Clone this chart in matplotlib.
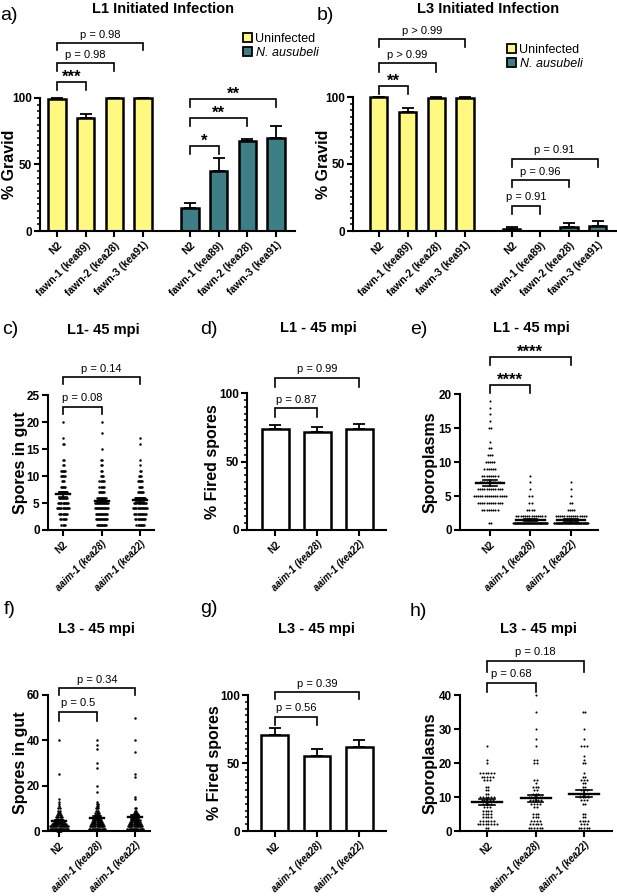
import numpy as np
import matplotlib
matplotlib.use('Agg')
from matplotlib import pyplot as plt
from matplotlib.patches import Patch

plt.rcParams['font.family'] = ['Liberation Sans', 'DejaVu Sans']

YELLOW = '#FFF981'
TEAL = '#3E7E86'

fawn_labels = ['N2', 'fawn-1 (kea89)', 'fawn-2 (kea28)', 'fawn-3 (kea91)']
aaim_labels = ['N2', 'aaim-1 (kea28)', 'aaim-1 (kea22)']

# a) L1 initiated infection, % gravid
l1_uninf = [99, 85, 100, 100]
l1_uninf_err = [1, 3, 0, 0]
l1_inf = [17, 45, 68, 70]
l1_inf_err = [4, 10, 1, 9]

# b) L3 initiated infection, % gravid
l3_uninf = [100, 89, 99.5, 99.5]
l3_uninf_err = [0.3, 3, 0.5, 0.3]
l3_inf = [1.5, 0, 3, 3.5]
l3_inf_err = [1.5, 0, 3, 4]

# d) / g) % fired spores
l1_fired = [74, 71.5, 73.5]
l1_fired_err = [3, 4, 4]
l3_fired = [70.5, 55, 62]
l3_fired_err = [5, 5.5, 5]

# c) spores in gut, L1 (value, number of animals)
c_n2_vals = [1, 2, 3, 4, 5, 6, 7, 8, 9, 10, 11, 12, 13, 16, 17, 20]
c_n2_cnts = [4, 6, 8, 12, 10, 9, 8, 5, 3, 5, 5, 2, 2, 2, 1, 1]
c_k28_vals = [1, 2, 3, 4, 5, 6, 7, 8, 9, 10, 11, 12, 13, 15, 18, 20]
c_k28_cnts = [10, 12, 12, 14, 14, 10, 6, 5, 5, 3, 2, 2, 2, 1, 1, 1]
c_k22_vals = [1, 2, 3, 4, 5, 6, 7, 8, 9, 10, 11, 12, 13, 16, 17]
c_k22_cnts = [8, 10, 12, 14, 12, 10, 6, 4, 5, 3, 2, 1, 1, 1, 1]
c_mean = [6.6, 5.3, 5.5]
c_sem = [0.45, 0.35, 0.4]

# e) sporoplasms, L1
e_n2_vals = [1, 3, 4, 5, 6, 7, 8, 9, 10, 11, 12, 13, 15, 16, 17, 18, 19]
e_n2_cnts = [2, 8, 12, 16, 12, 10, 8, 6, 5, 3, 2, 1, 2, 1, 1, 1, 1]
e_k28_vals = [1, 2, 3, 4, 5, 6, 7, 8]
e_k28_cnts = [70, 14, 4, 2, 2, 1, 1, 1]
e_k22_vals = [1, 2, 3, 4, 5, 6, 7]
e_k22_cnts = [65, 15, 4, 2, 1, 1, 1]
e_mean = [6.9, 1.45, 1.4]
e_sem = [0.4, 0.15, 0.15]

# f) spores in gut, L3
f_n2_vals = [0, 1, 2, 3, 4, 5, 6, 7, 8, 9, 10, 11, 12, 13, 14, 25, 40]
f_n2_cnts = [5, 20, 18, 14, 10, 8, 6, 4, 3, 2, 2, 1, 1, 1, 1, 1, 1]
f_k28_vals = [1, 2, 3, 4, 5, 6, 7, 8, 9, 10, 11, 12, 13, 17, 20, 28, 30, 36, 38, 40]
f_k28_cnts = [15, 14, 12, 10, 8, 6, 5, 4, 3, 3, 2, 2, 1, 1, 1, 1, 1, 1, 1, 1]
f_k22_vals = [1, 2, 3, 4, 5, 6, 7, 8, 9, 10, 14, 15, 24, 25, 35, 40, 50]
f_k22_cnts = [15, 14, 12, 10, 9, 7, 6, 4, 2, 2, 1, 1, 1, 1, 1, 1, 1]
f_mean = [4.2, 5.7, 6.0]
f_sem = [0.7, 0.8, 0.9]

# h) sporoplasms, L3
h_n2_vals = [1, 2, 3, 4, 5, 6, 7, 8, 9, 10, 11, 12, 13, 15, 16, 17, 20, 21, 25]
h_n2_cnts = [2, 8, 6, 4, 4, 4, 3, 4, 5, 6, 2, 2, 2, 3, 5, 6, 1, 1, 1]
h_k28_vals = [1, 2, 3, 4, 5, 7, 8, 9, 10, 11, 12, 13, 14, 15, 20, 21, 25, 27, 30, 35, 40]
h_k28_cnts = [6, 5, 4, 3, 3, 2, 4, 5, 6, 3, 2, 3, 1, 2, 2, 2, 1, 1, 1, 1, 1]
h_k22_vals = [1, 2, 3, 4, 5, 8, 9, 10, 11, 12, 13, 14, 15, 16, 17, 20, 21, 22, 25, 27, 30, 35]
h_k22_cnts = [5, 3, 4, 2, 2, 2, 3, 4, 4, 3, 2, 2, 3, 2, 1, 2, 1, 1, 3, 1, 1, 2]
h_mean = [8.5, 9.6, 11.0]
h_sem = [0.8, 1.0, 1.0]

W, H = 617, 896
fig = plt.figure(figsize=(W / 100, H / 100), dpi=100)


def px_axes(left, right, y0, ppu, ymax, xlim):
    # axes placed from pixel measurements of the reference
    ax = fig.add_axes([left / W, (H - y0) / H, (right - left) / W, ppu * ymax / H])
    ax.set_xlim(*xlim)
    ax.set_ylim(0, ymax)
    return ax


def ftext(x, y, s, **kw):
    fig.text(x / W, 1 - y / H, s, **kw)


def style(ax, top, major, minor, labels, xpos, italic, ylabel, lx, lsize=7.5):
    for s in ['top', 'right']:
        ax.spines[s].set_visible(False)
    for s in ['left', 'bottom']:
        ax.spines[s].set_linewidth(1.5)
    ax.spines['left'].set_bounds(0, top)
    ax.set_yticks(np.arange(0, top + 0.01, major))
    if minor:
        ax.set_yticks(np.arange(0, top + 0.01, minor), minor=True)
    ax.tick_params(axis='y', which='major', length=4.5, width=1.5, labelsize=8.5, pad=1.5)
    ax.tick_params(axis='y', which='minor', length=2.5, width=1.1)
    ax.tick_params(axis='x', length=4.5, width=1.5, pad=2)
    for lbl in ax.get_yticklabels():
        lbl.set_fontweight('bold')
    ax.set_xticks(xpos)
    ax.set_xticklabels(labels, rotation=45, ha='right', va='top',
                       rotation_mode='anchor', fontsize=lsize, fontweight='bold')
    if italic:
        for lbl in ax.get_xticklabels()[1:]:
            lbl.set_fontstyle('italic')
    ax.set_ylabel(ylabel, fontsize=11.5, fontweight='bold')
    ax.yaxis.set_label_coords(lx, top / 2 / ax.get_ylim()[1])


def bracket(ax, x1, x2, y, leg, label, stars=False):
    ax.plot([x1, x1, x2, x2], [y - leg, y, y, y - leg], color='black', lw=1.2,
            clip_on=False, solid_joinstyle='miter')
    if stars:
        ax.annotate(label, xy=((x1 + x2) / 2, y), xytext=(0, 0.3), textcoords='offset points',
                    ha='center', va='baseline', fontsize=12, fontweight='bold')
    else:
        ax.annotate(label, xy=((x1 + x2) / 2, y), xytext=(0, 4), textcoords='offset points',
                    ha='center', va='baseline', fontsize=8)


def bars(ax, x, vals, errs, color, width):
    ax.bar(x, vals, width=width, color=color, edgecolor='black', linewidth=1.8, zorder=2)
    ax.errorbar(x, vals, yerr=[np.zeros(len(errs)), errs], fmt='none', ecolor='black',
                elinewidth=1.3, capsize=4, capthick=1.3, zorder=1)


def dots(ax, groups, means, sems, step, maxw, mean_hw, cap_hw, size):
    for i, (vals, cnts) in enumerate(groups):
        xs, ys = [], []
        for v, n in zip(vals, cnts):
            st = min(step, maxw / n)
            xs.extend(i + (np.arange(n) - (n - 1) / 2) * st)
            ys.extend([v] * n)
        ax.scatter(xs, ys, s=size, color='black', linewidths=0, zorder=2, clip_on=False)
        m, e = means[i], sems[i]
        ax.plot([i - mean_hw, i + mean_hw], [m, m], color='black', lw=1.7, zorder=3)
        ax.plot([i, i], [m - e, m + e], color='black', lw=1.2, zorder=3)
        for yy in (m - e, m + e):
            ax.plot([i - cap_hw, i + cap_hw], [yy, yy], color='black', lw=1.2, zorder=3)


gap = 4.63
x4 = np.arange(4)
xinf = x4 + gap

# a)
ax_a = px_axes(40, 295, 231, 1.33, 150, (-0.59, 8.29))
bars(ax_a, x4, l1_uninf, l1_uninf_err, YELLOW, 0.6)
bars(ax_a, xinf, l1_inf, l1_inf_err, TEAL, 0.6)
style(ax_a, 100, 50, 5, fawn_labels * 2, np.concatenate([x4, xinf]), False, '% Gravid', -0.092)
bracket(ax_a, 0, 1, 112, 6, '***', True)
bracket(ax_a, 0, 2, 126, 6, 'p = 0.98')
bracket(ax_a, 0, 3, 141, 5, 'p = 0.98')
bracket(ax_a, gap, gap + 1, 64, 6, '*', True)
bracket(ax_a, gap, gap + 2, 85, 6, '**', True)
bracket(ax_a, gap, gap + 3, 99, 6, '**', True)

# b)
ax_b = px_axes(353, 617, 231, 1.34, 150, (-0.9, 8.3))
bars(ax_b, x4, l3_uninf, l3_uninf_err, YELLOW, 0.6)
bars(ax_b, xinf, l3_inf, l3_inf_err, TEAL, 0.6)
style(ax_b, 100, 50, 5, fawn_labels * 2, np.concatenate([x4, xinf]), False, '% Gravid', -0.085)
bracket(ax_b, 0, 1, 108, 6, '**', True)
bracket(ax_b, 0, 2, 125, 6, 'p > 0.99')
bracket(ax_b, 0, 3, 143, 6, 'p > 0.99')
bracket(ax_b, gap, gap + 1, 19, 6, 'p = 0.91')
bracket(ax_b, gap, gap + 2, 38, 5, 'p = 0.96')
bracket(ax_b, gap, gap + 3, 54, 6, 'p = 0.91')

for lx, ly in [(243, 33), (507, 44)]:
    leg = fig.legend(handles=[Patch(facecolor=YELLOW, edgecolor='black', lw=1.3, label='Uninfected'),
                              Patch(facecolor=TEAL, edgecolor='black', lw=1.3, label='N. ausubeli')],
                     loc='upper left', bbox_to_anchor=(lx / W, 1 - ly / H), frameon=False,
                     fontsize=9, handlelength=0.75, handleheight=0.75, handletextpad=0.25,
                     labelspacing=0.15, borderaxespad=0, borderpad=0)
    leg.get_texts()[1].set_fontstyle('italic')

x3 = np.arange(3)

# c)
ax_c = px_axes(48, 154, 530, 5.4, 32, (-0.39, 2.36))
dots(ax_c, [(c_n2_vals, c_n2_cnts), (c_k28_vals, c_k28_cnts), (c_k22_vals, c_k22_cnts)],
     c_mean, c_sem, 0.027, 0.45, 0.18, 0.1, 3.2)
style(ax_c, 25, 5, None, aaim_labels, x3, True, 'Spores in gut', -0.19, 7)
bracket(ax_c, 0, 1, 22.8, 1.3, 'p = 0.08')
bracket(ax_c, 0, 2, 28.3, 1.3, 'p = 0.14')

# d)
ax_d = px_axes(247, 386, 530, 1.37, 125, (-0.67, 2.64))
bars(ax_d, x3, l1_fired, l1_fired_err, 'white', 0.64)
style(ax_d, 100, 50, 5, aaim_labels, x3, True, '% Fired spores', -0.194, 7)
bracket(ax_d, 0, 1, 89, 6.5, 'p = 0.87')
bracket(ax_d, 0, 2, 111, 6.5, 'p = 0.99')

# e)
ax_e = px_axes(460, 598, 530, 6.8, 27, (-0.74, 2.67))
dots(ax_e, [(e_n2_vals, e_n2_cnts), (e_k28_vals, e_k28_cnts), (e_k22_vals, e_k22_cnts)],
     e_mean, e_sem, 0.054, 0.85, 0.35, 0.17, 2.2)
style(ax_e, 20, 5, None, aaim_labels, x3, True, 'Sporoplasms', -0.16, 7)
bracket(ax_e, 0, 1, 21.3, 1.2, '****', True)
bracket(ax_e, 0, 2, 25.4, 1.2, '****', True)

# f)
ax_f = px_axes(48, 150, 831, 2.267, 72, (-0.29, 2.39))
dots(ax_f, [(f_n2_vals, f_n2_cnts), (f_k28_vals, f_k28_cnts), (f_k22_vals, f_k22_cnts)],
     f_mean, f_sem, 0.029, 0.5, 0.18, 0.1, 3.2)
style(ax_f, 60, 20, None, aaim_labels, x3, True, 'Spores in gut', -0.196, 7)
bracket(ax_f, 0, 1, 52.5, 4, 'p = 0.5')
bracket(ax_f, 0, 2, 63, 3, 'p = 0.34')

# g)
ax_g = px_axes(248, 386, 831, 1.36, 115, (-0.64, 2.64))
bars(ax_g, x3, l3_fired, l3_fired_err, 'white', 0.64)
style(ax_g, 100, 50, 5, aaim_labels, x3, True, '% Fired spores', -0.188, 7)
bracket(ax_g, 0, 1, 84, 6, 'p = 0.56')
bracket(ax_g, 0, 2, 102, 5, 'p = 0.39')

# h)
ax_h = px_axes(460, 612, 831, 3.4, 55, (-0.56, 2.58))
dots(ax_h, [(h_n2_vals, h_n2_cnts), (h_k28_vals, h_k28_cnts), (h_k22_vals, h_k22_cnts)],
     h_mean, h_sem, 0.056, 0.62, 0.31, 0.16, 2.2)
style(ax_h, 40, 10, None, aaim_labels, x3, True, 'Sporoplasms', -0.15, 7)
bracket(ax_h, 0, 1, 43.6, 2.7, 'p = 0.68')
bracket(ax_h, 0, 2, 50.1, 3.3, 'p = 0.18')

# titles and panel letters
title_kw = dict(ha='center', va='center', fontsize=10.5, fontweight='bold')
ftext(163, 9, 'L1 Initiated Infection', **title_kw)
ftext(488, 9, 'L3 Initiated Infection', **title_kw)
ftext(103, 330, 'L1- 45 mpi', **title_kw)
ftext(318, 328, 'L1 - 45 mpi', **title_kw)
ftext(531, 328, 'L1 - 45 mpi', **title_kw)
ftext(96, 629, 'L3 - 45 mpi', **title_kw)
ftext(316, 629, 'L3 - 45 mpi', **title_kw)
ftext(538, 629, 'L3 - 45 mpi', **title_kw)

letter_kw = dict(ha='left', va='center', fontsize=14)
for s, x, y in [('a)', 0, 15), ('b)', 317, 15), ('c)', 2, 330), ('d)', 200, 330),
                ('e)', 410, 330), ('f)', 4, 609), ('g)', 200, 608), ('h)', 410, 611)]:
    ftext(x, y, s, **letter_kw)

fig.savefig('out.png', dpi=100)
